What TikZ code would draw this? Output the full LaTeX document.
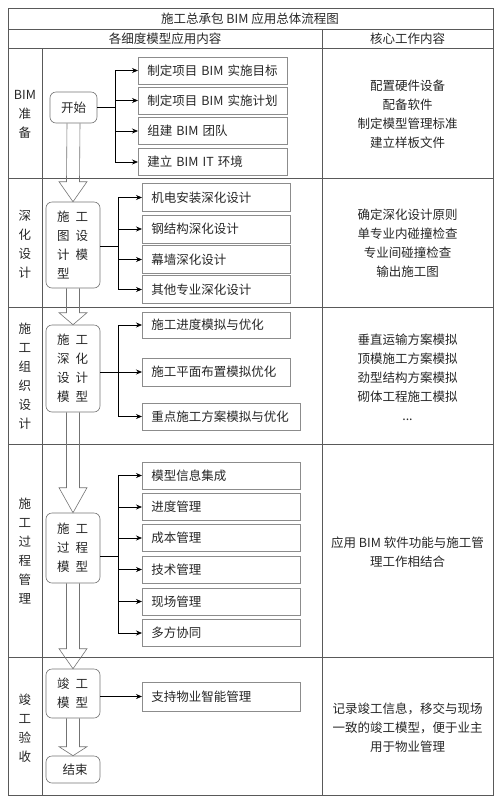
\documentclass[tikz,border=0pt]{standalone}
\usepackage{fontspec}
\setmainfont{Noto Sans CJK SC}
\usetikzlibrary{arrows.meta,calc}

% hollow flow arrow between two model boxes: #3 is the head length
\newcommand{\flowarrow}[3]{%
  \draw[bigarrow] ($(#1.south)+(-6.5,0)$) -- ($(#2.north)+(-6.5,-#3)$) -- ($(#2.north)+(-14,-#3)$)
    -- (#2.north) -- ($(#2.north)+(14,-#3)$) -- ($(#2.north)+(6.5,-#3)$) -- ($(#1.south)+(6.5,0)$);}

\begin{document}
\begin{tikzpicture}[x=1pt,y=-1pt,
  font=\fontsize{12.5}{19}\selectfont, text=black!85,
  grid/.style={draw=black!65, line width=0.8pt},
  task/.style={draw=black!45, line width=0.6pt, anchor=west, minimum height=27pt, inner xsep=9pt, text width=#1, align=left},
  task/.default=130pt,
  model/.style={draw=black!55, line width=0.6pt, rounded corners=6pt, minimum width=54pt, inner xsep=11pt, text width=32pt, align=left},
  endbox/.style={draw=black!55, line width=0.6pt, rounded corners=6pt, align=center},
  link/.style={line width=0.7pt, -{Stealth[length=6pt,width=5pt]}},
  bigarrow/.style={draw=black!55, line width=0.6pt}
  ]
  \useasboundingbox (0,0) rectangle (500,804);

  % table
  \draw[grid] (8,8) rectangle (493,795);
  \foreach \y in {29,48,178,307,444,657} \draw[grid] (8,\y) -- (493,\y);
  \draw[grid] (322,29) -- (322,795);
  \draw[grid] (42,48) -- (42,795);

  \node (title) at (250,18.5) {施工总承包 BIM 应用总体流程图};
  \node (headl) at (165,38.5) {各细度模型应用内容};
  \node (headr) at (407.5,38.5) {核心工作内容};

  % stages
  \node[align=center] (prep) at (25,114) {BIM\\准\\备};
  \node[align=center] (deep) at (25,244) {深\\化\\设\\计};
  \node[align=center] (orga) at (25,376) {施\\工\\组\\织\\设\\计};
  \node[align=center] (mgmt) at (25,551) {施\\工\\过\\程\\管\\理};
  \node[align=center] (accp) at (25,728) {竣\\工\\验\\收};

  % model flow
  \node[endbox, minimum width=47pt, minimum height=31pt] (start) at (73.5,107.5) {开始};
  \node[model, minimum height=86pt] (detail) at (73,245) {施\hspace{6pt}工\\图\hspace{6pt}设\\计\hspace{6pt}模\\型};
  \node[model, minimum height=87pt] (deepen) at (73,368.5) {施\hspace{6pt}工\\深\hspace{6pt}化\\设\hspace{6pt}计\\模\hspace{6pt}型};
  \node[model, minimum height=70pt] (proc) at (73,548) {施\hspace{6pt}工\\过\hspace{6pt}程\\模\hspace{6pt}型};
  \node[model, minimum height=49pt] (done) at (73,693.5) {竣\hspace{6pt}工\\模\hspace{6pt}型};
  \node[endbox, minimum width=54pt, minimum height=27pt] (finish) at (73,769.5) {\hspace{4pt}结束};

  \flowarrow{start}{detail}{20}
  \flowarrow{detail}{deepen}{12}
  \flowarrow{deepen}{proc}{25}
  \flowarrow{proc}{done}{20}
  \flowarrow{done}{finish}{9}

  % tasks
  \node[task=131pt] (goal) at (138,70.5) {制定项目 BIM 实施目标};
  \node[task=131pt] (plan) at (138,100.5) {制定项目 BIM 实施计划};
  \node[task=131pt] (team) at (138,131) {组建 BIM 团队};
  \node[task=131pt] (itenv) at (138,162) {建立 BIM IT 环境};

  \node[task, minimum height=28pt] (mep) at (142,197.5) {机电安装深化设计};
  \node[task, minimum height=28pt] (steel) at (142,229) {钢结构深化设计};
  \node[task, minimum height=28pt] (wall) at (142,259.5) {幕墙深化设计};
  \node[task, minimum height=28pt] (other) at (142,289.5) {其他专业深化设计};

  \node[task, minimum height=26pt] (sched) at (142,325) {施工进度模拟与优化};
  \node[task, minimum height=28pt] (layout) at (142,372) {施工平面布置模拟优化};
  \node[task=140pt] (key) at (142,416.5) {重点施工方案模拟与优化};

  \node[task=140pt] (info) at (142,475.5) {模型信息集成};
  \node[task=140pt] (prog) at (142,507) {进度管理};
  \node[task=140pt] (cost) at (142,538) {成本管理};
  \node[task=140pt] (tech) at (142,569.5) {技术管理};
  \node[task=140pt] (site) at (142,601.5) {现场管理};
  \node[task=140pt] (coop) at (142,633) {多方协同};

  \node[task=140pt, minimum height=29pt] (smart) at (142,696.5) {支持物业智能管理};

  % branches
  \coordinate (j1) at (115,107.5);
  \draw[line width=0.7pt] (start.east) -- (j1);
  \draw[line width=0.7pt] (j1 |- goal.west) -- (j1 |- itenv.west);
  \foreach \t in {goal,plan,team,itenv} \draw[link] (j1 |- \t.west) -- (\t.west);

  \coordinate (j2) at (118,246);
  \draw[line width=0.7pt] (detail.east |- j2) -- (j2);
  \draw[line width=0.7pt] (j2 |- mep.west) -- (j2 |- other.west);
  \foreach \t in {mep,steel,wall,other} \draw[link] (j2 |- \t.west) -- (\t.west);

  \coordinate (j3) at (118,372);
  \draw[line width=0.7pt] (deepen.east |- j3) -- (j3);
  \draw[line width=0.7pt] (j3 |- sched.west) -- (j3 |- key.west);
  \foreach \t in {sched,layout,key} \draw[link] (j3 |- \t.west) -- (\t.west);

  \coordinate (j4) at (118,556);
  \draw[line width=0.7pt] (proc.east |- j4) -- (j4);
  \draw[line width=0.7pt] (j4 |- info.west) -- (j4 |- coop.west);
  \foreach \t in {info,prog,cost,tech,site,coop} \draw[link] (j4 |- \t.west) -- (\t.west);

  \draw[link] (done.east |- smart.west) -- (smart.west);

  % core work
  \node[align=center] (core1) at (407.5,114) {配置硬件设备\\配备软件\\制定模型管理标准\\建立样板文件};
  \node[align=center] (core2) at (407.5,243.5) {确定深化设计原则\\单专业内碰撞检查\\专业间碰撞检查\\输出施工图};
  \node[align=center] (core3) at (407.5,377) {垂直运输方案模拟\\顶模施工方案模拟\\劲型结构方案模拟\\砌体工程施工模拟\\...};
  \node[align=center] (core4) at (407.5,552) {应用 BIM 软件功能与施工管\\理工作相结合};
  \node[align=center] (core5) at (407.5,727.5) {记录竣工信息，移交与现场\\一致的竣工模型，便于业主\\用于物业管理};

\end{tikzpicture}
\end{document}
